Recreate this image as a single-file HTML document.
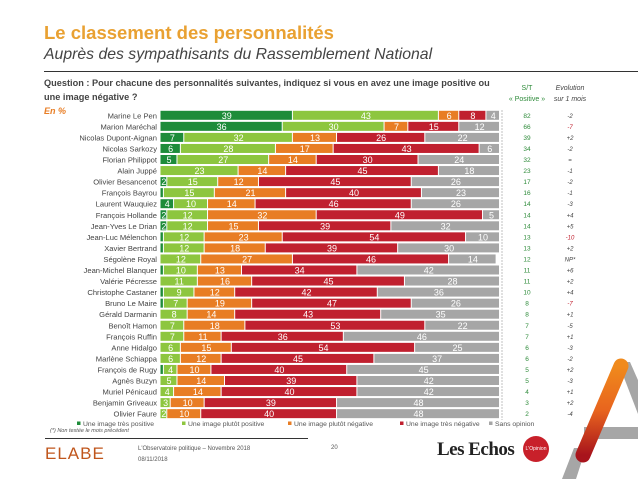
<!DOCTYPE html>
<html><head><meta charset="utf-8">
<style>
body{margin:0;background:#fff;}
#root{position:relative;width:638px;height:479px;overflow:hidden;font-family:"Liberation Sans",sans-serif;background:#fff;}
.abs{position:absolute;white-space:nowrap;}
</style></head>
<body>
<div id="root">
<div class="abs" style="left:44px;top:22px;font-size:18.5px;font-weight:bold;color:#e9a132;">Le classement des personnalités</div>
<div class="abs" style="left:44px;top:46px;font-size:15.8px;font-style:italic;color:#444;">Auprès des sympathisants du Rassemblement National</div>
<div class="abs" style="left:44px;top:71px;width:594px;height:1px;background:#333;"></div>
<div class="abs" style="left:44px;top:76px;font-size:9.2px;font-weight:bold;color:#444;line-height:14px;">Question : Pour chacune des personnalités suivantes, indiquez si vous en avez une image positive ou<br>une image négative ?</div>
<div class="abs" style="left:44px;top:106px;font-size:9px;font-weight:bold;font-style:italic;color:#e87d24;">En %</div>
<div class="abs" style="left:505px;top:83px;width:44px;text-align:center;font-size:7px;color:#2e8b3a;line-height:11px;">S/T<br>« Positive »</div>
<div class="abs" style="left:548px;top:83px;width:44px;text-align:center;font-size:7px;font-style:italic;color:#444;line-height:11px;">Evolution<br>sur 1 mois</div>

<svg class="abs" style="left:0;top:0" width="638" height="479" id="chart">
  <g id="logo">
    <defs><linearGradient id="og" x1="0" y1="0" x2="0" y2="1"><stop offset="0" stop-color="#f08a1c"/><stop offset="0.5" stop-color="#e8641e"/><stop offset="1" stop-color="#a8141c"/></linearGradient></defs>
    <polygon points="618,362 630,362 660,430 648,440" fill="#a6a6a6"/>
    <rect x="584" y="427" width="60" height="12" fill="#a6a6a6"/>
    <polygon points="574,448 586,448 576,479 562,479" fill="#a6a6a6"/>
    <line x1="621" y1="366" x2="583" y2="455" stroke="url(#og)" stroke-width="15" stroke-linecap="round"/>
  </g>
  <line x1="502" y1="110" x2="502" y2="420" stroke="#999" stroke-width="0.6" stroke-dasharray="2,1"/>
</svg>

<div class="abs" style="left:50px;top:428px;font-size:5.5px;font-style:italic;color:#555;">(*) Non testée le mois précédent</div>
<div class="abs" style="left:45px;top:438px;width:263px;height:1px;background:#333;"></div>
<div class="abs" style="left:45px;top:444px;font-size:17px;letter-spacing:1px;color:#c0561c;">ELABE</div>
<div class="abs" style="left:138px;top:444px;font-size:6px;color:#555;line-height:11px;">L'Observatoire politique – Novembre 2018<br>08/11/2018</div>
<div class="abs" style="left:331px;top:445px;font-size:6px;color:#555;">20</div>
<div class="abs" style="left:437px;top:439px;font-size:19px;font-weight:bold;font-family:'Liberation Serif',serif;color:#222;letter-spacing:-0.5px;">Les Echos</div>
<div class="abs" style="left:523px;top:436px;width:26px;height:26px;border-radius:50%;background:#c8202a;color:#fff;font-size:5px;text-align:center;line-height:26px;">L'Opinion</div>

<script>
const names=["Marine Le Pen","Marion Maréchal","Nicolas Dupont-Aignan","Nicolas Sarkozy","Florian Philippot","Alain Juppé","Olivier Besancenot","François Bayrou","Laurent Wauquiez","François Hollande","Jean-Yves Le Drian","Jean-Luc Mélenchon","Xavier Bertrand","Ségolène Royal","Jean-Michel Blanquer","Valérie Pécresse","Christophe Castaner","Bruno Le Maire","Gérald Darmanin","Benoît Hamon","François Ruffin","Anne Hidalgo","Marlène Schiappa","François de Rugy","Agnès Buzyn","Muriel Pénicaud","Benjamin Griveaux","Olivier Faure"];
const tresPositive=[39,36,7,6,5,0,2,1,4,2,2,1,1,0,1,0,1,1,0,0,0,0,0,1,0,0,0,0];
const plutotPositive=[43,30,32,28,27,23,15,15,10,12,12,12,12,12,10,11,9,7,8,7,7,6,6,4,5,4,3,2];
const plutotNegative=[6,7,13,17,14,14,12,21,14,32,15,23,18,27,13,16,12,19,14,18,11,15,12,10,14,14,10,10];
const tresNegative=[8,15,26,43,30,45,45,40,46,49,39,54,39,46,34,45,42,47,43,53,36,54,45,40,39,40,39,40];
const sansOpinion=[4,12,22,6,24,18,26,23,26,5,32,10,30,14,42,28,36,26,35,22,46,25,37,45,42,42,48,48];
const stPositive=["82","66","39","34","32","23","17","16","14","14","14","13","13","12","11","11","10","8","8","7","7","6","6","5","5","4","3","2"];
const evolution=["-2","-7","+2","-2","=","-1","-2","-1","-3","+4","+5","-10","+2","NP*","+6","+2","+4","-7","+1","-5","+1","-3","-2","+2","-3","+1","+2","-4"];
const seriesNames=["Une image très positive","Une image plutôt positive","Une image plutôt négative","Une image très négative","Sans opinion"];
const colors=["#1e8c3a","#8dc63f","#e87d24","#c0202f","#a6a6a6"];
const series=[tresPositive,plutotPositive,plutotNegative,tresNegative,sansOpinion];

const NS="http://www.w3.org/2000/svg";
const svg=document.getElementById('chart');
const X0=160.5, SCALE=3.395;
const xScale=v=>X0+v*SCALE;
const yScale=i=>115.3+i*11.05;
const BH=9;
function mk(tag,attrs,txt){const e=document.createElementNS(NS,tag);for(const k in attrs)e.setAttribute(k,attrs[k]);if(txt!==undefined)e.textContent=txt;svg.appendChild(e);return e;}

names.forEach((n,i)=>{
  const y=yScale(i);
  const lab=mk('text',{x:157,y:y+3,'text-anchor':'end','font-size':'7.6',fill:'#444','font-family':'Liberation Sans, sans-serif'},n);
  
  
  let cum=0;
  series.forEach((s,k)=>{
    const v=s[i];
    if(v>0){
      const r=mk('rect',{x:xScale(cum),y:y-BH/2,width:Math.max(v*SCALE-1,0.8),height:BH,fill:colors[k]});
      
      
      if(v>=2){
        const t=mk('text',{x:xScale(cum+v/2),y:y+3.5,'text-anchor':'middle','font-size':'9',fill:'#fff','font-family':'Liberation Sans, sans-serif'},String(v));
        
        
      }
    }
    cum+=v;
  });
  const st=mk('text',{x:527,y:y+2.5,'text-anchor':'middle','font-size':'6.5',fill:'#2e8b3a','font-family':'Liberation Sans, sans-serif'},stPositive[i]);
  
  
  const ev=evolution[i];
  const red=(ev==="-7"||ev==="-10");
  const e=mk('text',{x:570,y:y+2.5,'text-anchor':'middle','font-size':'6','font-style':'italic',fill:red?'#c0202f':'#444','font-family':'Liberation Sans, sans-serif'},ev);
  
  
});

const legendX=[77,182,288,400,489];
seriesNames.forEach((n,k)=>{
  const r=mk('rect',{x:legendX[k],y:421.5,width:3.5,height:3.5,fill:colors[k]});
  
  
  const t=mk('text',{x:legendX[k]+6,y:426,'font-size':'6.8',fill:'#555','font-family':'Liberation Sans, sans-serif'},n);
  
  
});
</script>
</div>
</body></html>
